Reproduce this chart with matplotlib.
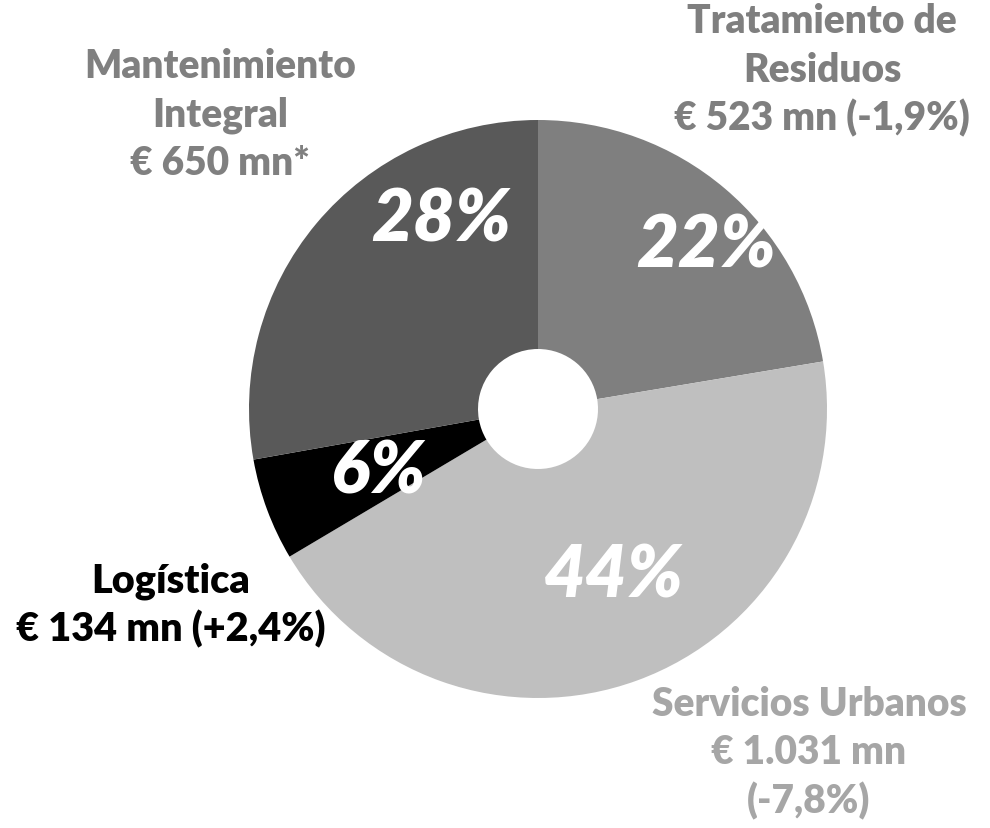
import matplotlib
matplotlib.use("Agg")
import matplotlib.pyplot as plt

# Data
categories = ["Tratamiento de\nResiduos", "Servicios Urbanos", "Logística", "Mantenimiento\nIntegral"]
values = [523, 1031, 134, 650]          # € mn
value_labels = ["€ 523 mn (-1,9%)", "€ 1.031 mn\n(-7,8%)", "€ 134 mn (+2,4%)", "€ 650 mn*"]
slice_colors = ["#7f7f7f", "#bfbfbf", "#000000", "#595959"]
label_colors = ["#7f7f7f", "#a6a6a6", "#000000", "#808080"]

W, H = 990, 829
fig = plt.figure(figsize=(W / 100, H / 100), dpi=100)
ax = fig.add_axes([0, 0, 1, 1])

cx, cy, R, r_hole = 538, 410, 289, 60
ax.pie(values, colors=slice_colors, startangle=-90, counterclock=True,
       center=(cx, cy), radius=R,
       wedgeprops=dict(width=R - r_hole, edgecolor="none", linewidth=0))
ax.set_xlim(0, W)
ax.set_ylim(H, 0)
ax.set_aspect("auto")
ax.axis("off")

total = sum(values)
pcts = [f"{round(v / total * 100)}%" for v in values]
pct_pos = [(706, 246), (614, 576), (378, 472), (441, 220)]
for p, (x, y) in zip(pcts, pct_pos):
    ax.text(x, y, p, ha="center", va="center", color="white",
            fontfamily="Lato", fontweight=800, fontstyle="italic",
            fontsize=52)

label_pos = [(822, 33), (809, 716), (171, 593), (220, 78)]
label_sizes = [28, 28, 28.5, 28]
for cat, val, col, (x, y), fs in zip(categories, value_labels, label_colors, label_pos, label_sizes):
    lines = (cat + "\n" + val).split("\n")
    for i, line in enumerate(lines):
        ax.text(x, y + i * 48.5, line, ha="center", va="baseline", color=col,
                fontfamily="Lato", fontweight=800, fontsize=fs)

fig.savefig("out.png", dpi=100, facecolor="white")
